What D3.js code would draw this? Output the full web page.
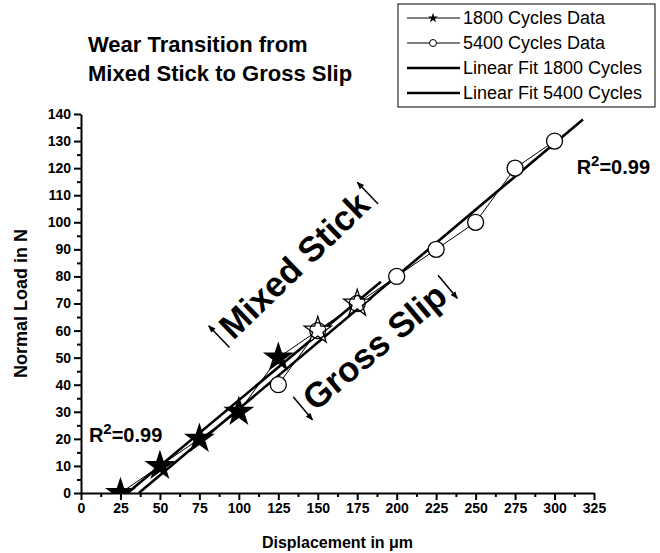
<!DOCTYPE html>
<html>
<head>
<meta charset="utf-8">
<script src="https://cdn.jsdelivr.net/npm/d3@7/dist/d3.min.js"></script>
<style>
  body { margin: 0; background: #fff; }
  svg { font-family: Arial, "Liberation Sans", sans-serif; }
</style>
</head>
<body>
<svg id="chart" width="660" height="553"></svg>
<script>
// data
const cycles1800X = [25, 50, 75, 100, 125, 150, 175];
const cycles1800Y = [0, 10, 20, 30, 50, 60, 70];
const cycles5400X = [125, 150, 175, 200, 225, 250, 275, 300];
const cycles5400Y = [40, 60, 70, 80, 90, 100, 120, 130];
const fitRange1800 = [25, 190];
const fitRange5400 = [25, 318];
const xTicks = d3.range(0, 326, 25);
const yTicks = d3.range(0, 141, 10);
const titleLines = ["Wear Transition from", "Mixed Stick to Gross Slip"];
const legendLabels = ["1800 Cycles Data", "5400 Cycles Data", "Linear Fit 1800 Cycles", "Linear Fit 5400 Cycles"];
const rSquared = ["0.99", "0.99"];

const svg = d3.select("#chart");

const x = d3.scaleLinear().domain([0, 325]).range([81, 594]);
const y = d3.scaleLinear().domain([0, 140]).range([493, 114]);

const zip = (xs, ys) => xs.map((v, i) => ({ x: v, y: ys[i] }));
const data1800 = zip(cycles1800X, cycles1800Y);
const data5400 = zip(cycles5400X, cycles5400Y);

const linearFit = (pts) => {
  const mx = d3.mean(pts, d => d.x);
  const my = d3.mean(pts, d => d.y);
  const sxy = d3.sum(pts, d => (d.x - mx) * (d.y - my));
  const sxx = d3.sum(pts, d => (d.x - mx) * (d.x - mx));
  const slope = sxy / sxx;
  return { slope, intercept: my - slope * mx };
};

const fitSegment = (pts, range) => {
  const { slope, intercept } = linearFit(pts);
  const x0 = Math.max(range[0], -intercept / slope);
  const x1 = Math.min(range[1], (140 - intercept) / slope);
  return [x0, x1].map(v => ({ x: v, y: slope * v + intercept }));
};

// a marker sits under the other series only where both share the same point
const overlaps = (d, xs, ys) => xs.some((v, i) => v === d.x && ys[i] === d.y);

/////////////////////////////////////////////////////////
// TITLE

svg.append("g").selectAll("text").data(titleLines).enter().append("text")
  .attr("x", 88)
  .attr("y", (d, i) => 52 + i * 29)
  .attr("font-size", 22)
  .attr("font-weight", "bold")
  .text(d => d);

/////////////////////////////////////////////////////////
// AXES

svg.append("g").attr("transform", `translate(0,${y(0)})`)
  .call(d3.axisBottom(x).tickValues(xTicks).tickSize(7).tickSizeOuter(0).tickPadding(3));
svg.append("g").attr("transform", `translate(0,${y(0)})`)
  .call(d3.axisBottom(x).tickValues(xTicks.slice(0, -1).map(d => d + 12.5)).tickSize(4).tickFormat(""))
  .select(".domain").remove();

svg.append("g").attr("transform", `translate(${x(0)},0)`)
  .call(d3.axisLeft(y).tickValues(yTicks).tickSize(7).tickSizeOuter(0).tickPadding(3));
svg.append("g").attr("transform", `translate(${x(0)},0)`)
  .call(d3.axisLeft(y).tickValues(yTicks.slice(0, -1).map(d => d + 5)).tickSize(4).tickFormat(""))
  .select(".domain").remove();

svg.selectAll(".domain, .tick line")
  .attr("stroke", "#000")
  .attr("stroke-width", 2);
svg.selectAll(".tick text")
  .attr("fill", "#000")
  .attr("font-size", 14)
  .attr("font-weight", "bold")
  .attr("font-family", "Arial, 'Liberation Sans', sans-serif");

svg.append("text")
  .attr("transform", `translate(27,${(y(0) + y(140)) / 2}) rotate(-90)`)
  .attr("text-anchor", "middle")
  .attr("font-size", 18)
  .attr("font-weight", "bold")
  .text("Normal Load in N");

svg.append("text")
  .attr("x", (x(0) + x(325)) / 2)
  .attr("y", 548)
  .attr("text-anchor", "middle")
  .attr("font-size", 16)
  .attr("font-weight", "bold")
  .text("Displacement in \u03bcm");

/////////////////////////////////////////////////////////
// SERIES

svg.append("defs").append("clipPath").attr("id", "plotArea")
  .append("rect")
  .attr("x", x(0)).attr("y", 0)
  .attr("width", x(325) - x(0) + 20).attr("height", y(0));

const line = d3.line().x(d => x(d.x)).y(d => y(d.y));
const star = (size) => d3.symbol().type(d3.symbolStar).size(size)();

const plot = svg.append("g").attr("clip-path", "url(#plotArea)");

plot.append("path").datum(data1800)
  .attr("d", line).attr("fill", "none").attr("stroke", "#000").attr("stroke-width", 1);
plot.append("path").datum(data5400)
  .attr("d", line).attr("fill", "none").attr("stroke", "#000").attr("stroke-width", 1);

plot.append("path").datum(fitSegment(data1800, fitRange1800))
  .attr("d", line).attr("fill", "none").attr("stroke", "#000").attr("stroke-width", 2.6);
plot.append("path").datum(fitSegment(data5400, fitRange5400))
  .attr("d", line).attr("fill", "none").attr("stroke", "#000").attr("stroke-width", 2.6);

plot.selectAll("path.star").data(data1800).enter().append("path")
  .attr("class", "star")
  .attr("transform", d => `translate(${x(d.x)},${y(d.y)})`)
  .attr("d", star(225))
  .attr("fill", d => overlaps(d, cycles5400X, cycles5400Y) ? "#fff" : "#000")
  .attr("stroke", "#000")
  .attr("stroke-width", 1.3);

plot.selectAll("circle").data(data5400).enter().append("circle")
  .attr("cx", d => x(d.x))
  .attr("cy", d => y(d.y))
  .attr("r", 8)
  .attr("fill", d => overlaps(d, cycles1800X, cycles1800Y) ? "none" : "#fff")
  .attr("stroke", "#000")
  .attr("stroke-width", 1.3);

/////////////////////////////////////////////////////////
// R^2 LABELS

const r2Pos = [[5, 19], [314, 118]];
r2Pos.forEach((p, i) => {
  const t = svg.append("text")
    .attr("x", x(p[0]))
    .attr("y", y(p[1]))
    .attr("font-size", 20)
    .attr("font-weight", "bold");
  t.append("tspan").text("R");
  t.append("tspan").attr("dy", -8).attr("font-size", 15).text("2");
  t.append("tspan").attr("dy", 8).text("=" + rSquared[i]);
});

/////////////////////////////////////////////////////////
// ANNOTATIONS

svg.select("defs").append("marker")
  .attr("id", "head")
  .attr("viewBox", "0 0 10 10")
  .attr("refX", 9).attr("refY", 5)
  .attr("markerWidth", 5).attr("markerHeight", 5)
  .attr("orient", "auto")
  .append("path").attr("d", "M0,1 L10,5 L0,9 Z").attr("fill", "#000");

const annotations = [
  { label: "Mixed Stick", pos: [135, 84], angle: -44, dir: -1 },
  { label: "Gross Slip", pos: [186, 54], angle: -40, dir: 1 }
];

annotations.forEach(a => {
  const g = svg.append("g")
    .attr("transform", `translate(${x(a.pos[0])},${y(a.pos[1])}) rotate(${a.angle})`);
  const t = g.append("text")
    .attr("text-anchor", "middle")
    .attr("y", 12)
    .attr("font-size", 35)
    .attr("font-weight", "bold")
    .text(a.label);
  const w = t.node().getComputedTextLength();
  [-w / 2 - 7, w / 2 + 7].forEach(ax => {
    g.append("line")
      .attr("x1", ax).attr("x2", ax)
      .attr("y1", a.dir < 0 ? 14 : -14)
      .attr("y2", a.dir < 0 ? -16 : 16)
      .attr("stroke", "#000")
      .attr("stroke-width", 1.5)
      .attr("marker-end", "url(#head)");
  });
});

/////////////////////////////////////////////////////////
// LEGEND

const legend = svg.append("g");
legend.append("rect")
  .attr("x", 398).attr("y", 4)
  .attr("width", 257).attr("height", 103)
  .attr("fill", "#fff").attr("stroke", "#000").attr("stroke-width", 1);

const rows = legend.selectAll("g.row").data(legendLabels).enter().append("g")
  .attr("class", "row")
  .attr("transform", (d, i) => `translate(0,${18 + i * 25})`);

rows.append("line")
  .attr("x1", 407).attr("x2", 460)
  .attr("stroke", "#000")
  .attr("stroke-width", (d, i) => i < 2 ? 1 : 2.6);

rows.append("text")
  .attr("x", 463)
  .attr("dy", "0.35em")
  .attr("font-size", 18)
  .text(d => d);

rows.filter((d, i) => i === 0).append("path")
  .attr("transform", "translate(433,0)")
  .attr("d", star(30))
  .attr("fill", "#000");
rows.filter((d, i) => i === 1).append("circle")
  .attr("cx", 433).attr("r", 3.5)
  .attr("fill", "#fff").attr("stroke", "#000");
</script>
</body>
</html>
